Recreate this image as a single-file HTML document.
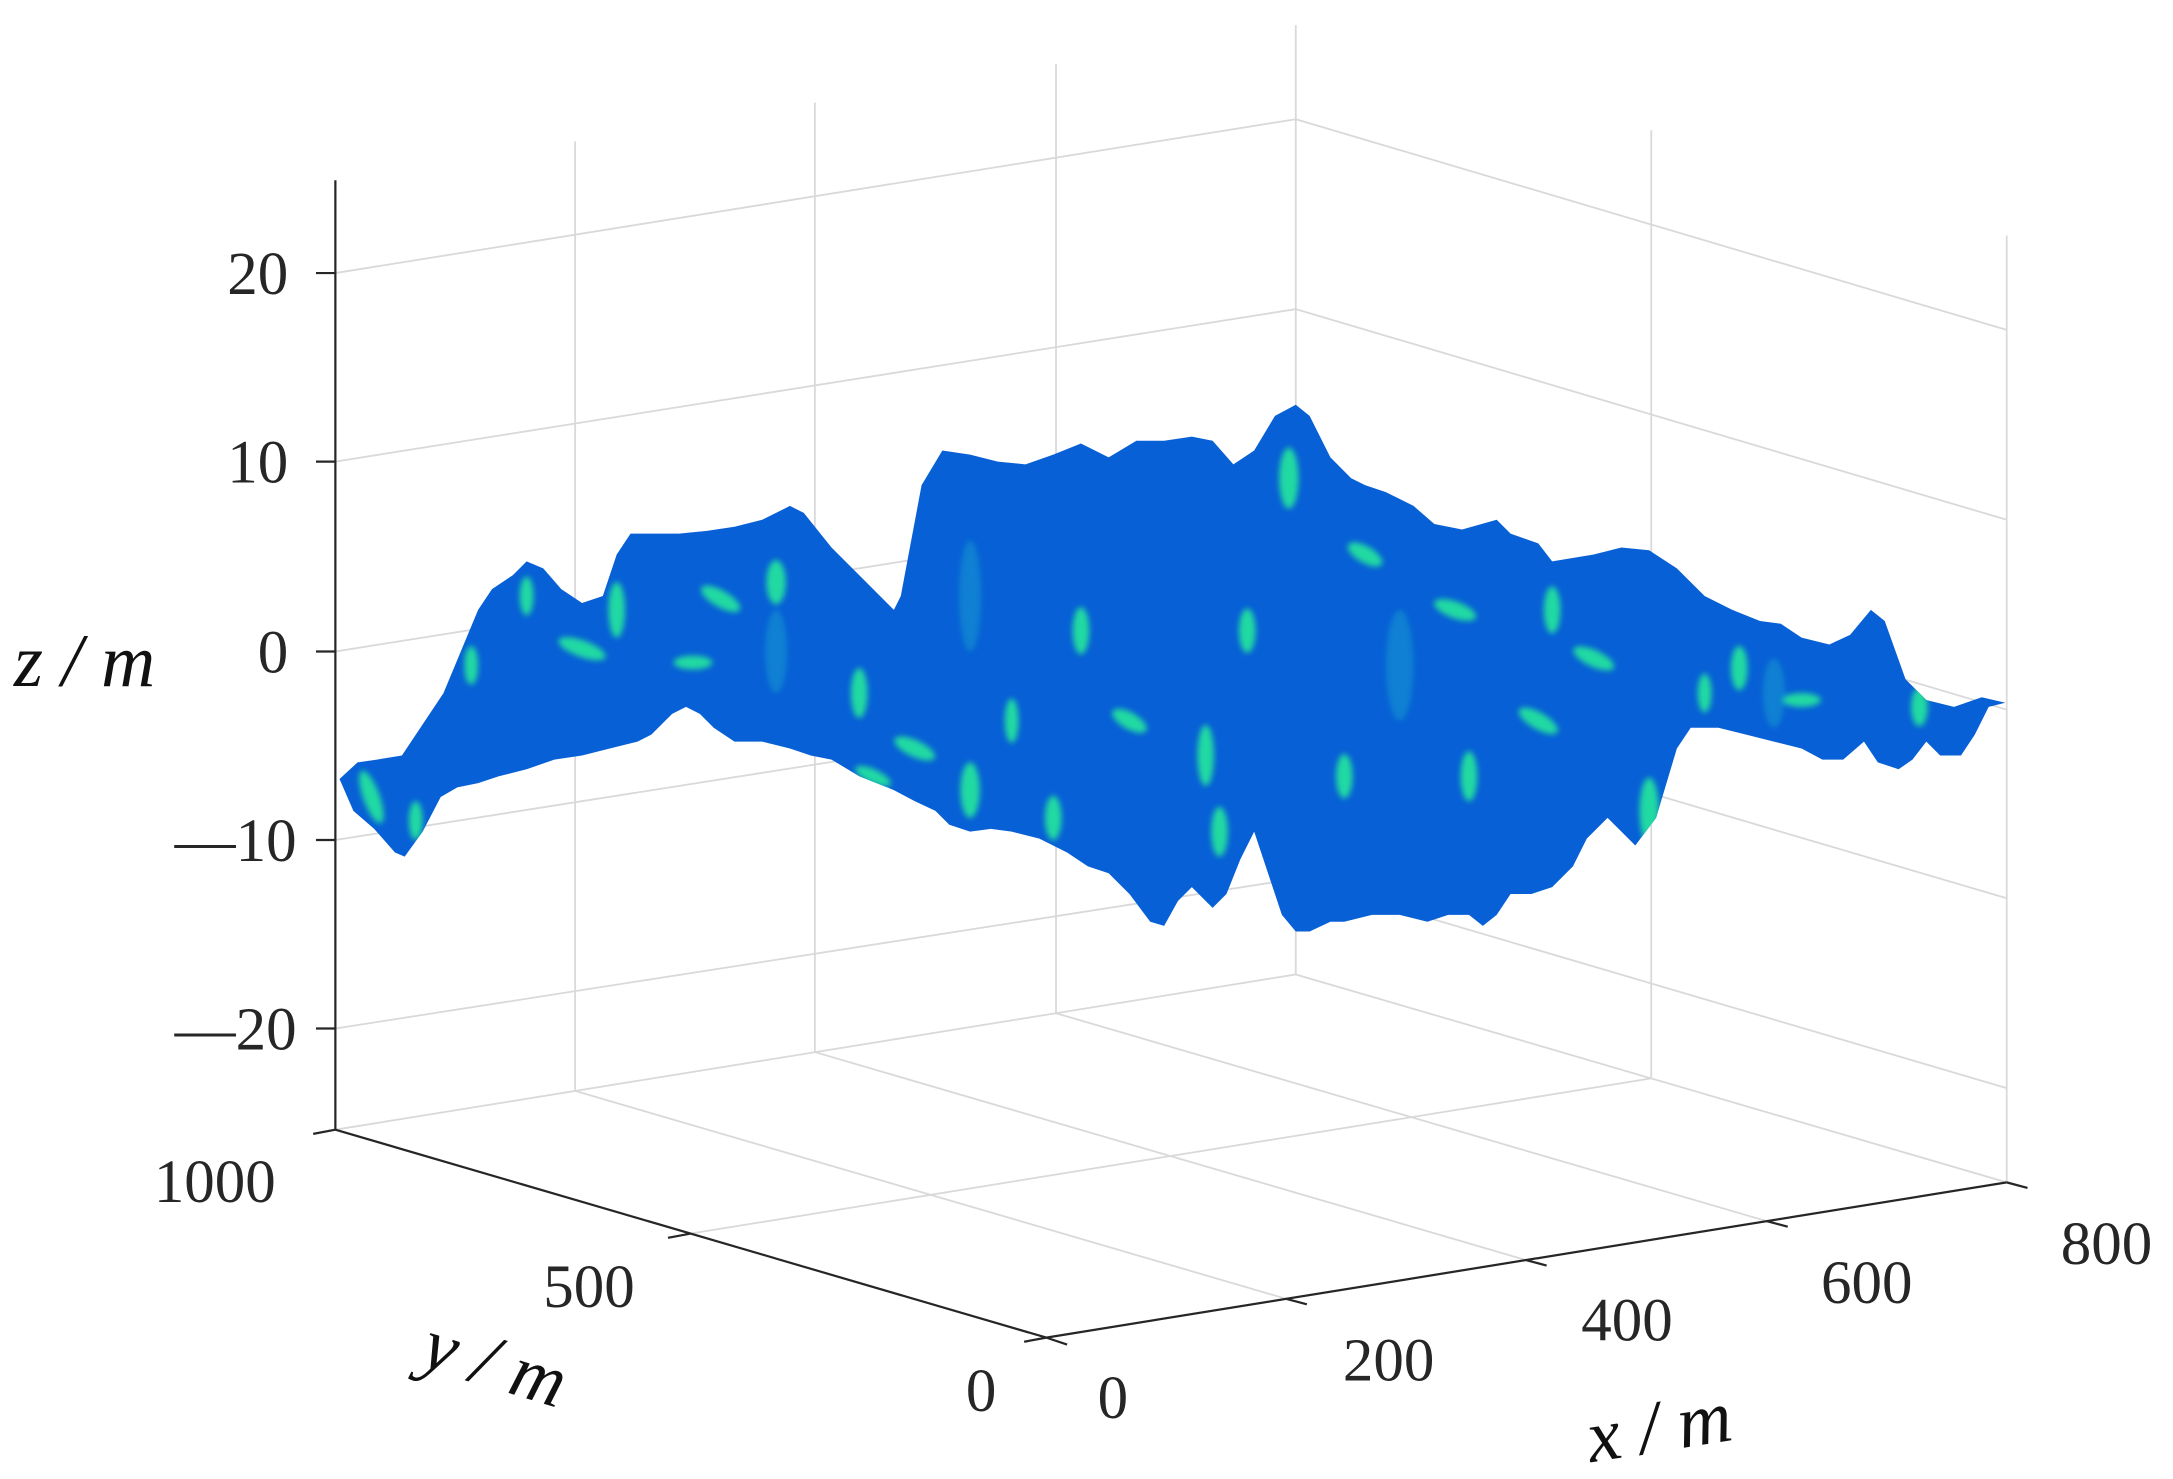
<!DOCTYPE html>
<html><head><meta charset="utf-8"><style>
html,body{margin:0;padding:0;background:#fff;}
svg{display:block;}
</style></head><body>
<svg width="2173" height="1479" viewBox="0 0 1568 1067" preserveAspectRatio="none" xmlns="http://www.w3.org/2000/svg">
<defs><filter id="bl" x="-50%" y="-50%" width="200%" height="200%"><feGaussianBlur stdDeviation="2.2"/></filter>
<clipPath id="cp"><path id="surfp" stroke-linejoin="round" d="M245,562 L258,550 272,548 290,545 320,500 345,440 355,425 370,415 380,405 392,410 405,425 420,435 435,430 445,400 455,385 470,385 490,385 510,383 530,380 550,375 570,365 580,370 600,395 625,420 645,440 650,430 665,350 680,325 700,328 720,333 740,335 760,328 780,320 800,330 820,318 840,318 860,315 875,318 890,335 905,325 920,300 935,292 945,300 960,330 975,345 985,350 1000,355 1020,365 1035,378 1055,382 1080,375 1090,385 1110,392 1120,405 1150,400 1170,395 1190,397 1210,410 1230,430 1250,440 1270,448 1285,450 1300,460 1320,465 1335,458 1350,440 1360,448 1375,490 1390,505 1410,510 1430,503 1447,507 1435,510 1425,530 1415,545 1400,545 1390,535 1380,548 1370,555 1355,550 1345,535 1330,548 1315,548 1300,540 1280,535 1260,530 1240,525 1220,525 1210,540 1195,590 1180,610 1170,600 1160,590 1145,605 1135,625 1120,640 1105,645 1090,645 1080,660 1070,668 1060,660 1045,660 1030,665 1010,660 990,660 970,665 960,665 945,672 935,672 925,660 915,630 905,600 895,620 885,645 875,655 860,640 850,650 840,668 830,665 815,645 800,630 785,625 770,615 750,605 730,600 715,598 700,600 685,595 675,585 660,578 645,570 620,560 600,548 585,545 570,540 550,535 530,535 515,525 505,515 495,510 485,515 470,530 460,535 440,540 420,545 400,548 380,555 360,560 345,565 330,568 318,575 305,600 292,618 285,615 270,598 255,585 Z"/></clipPath></defs>
<g stroke="#d9d9d9" stroke-width="1.3" fill="none">
<line x1="415" y1="787" x2="415" y2="102"/><line x1="588" y1="759" x2="588" y2="74"/><line x1="762" y1="731" x2="762" y2="46"/>
<line x1="935" y1="703" x2="935" y2="18"/><line x1="1191.5" y1="778" x2="1191.5" y2="94"/><line x1="1448" y1="853" x2="1448" y2="170"/>
<line x1="242" y1="197" x2="935" y2="86"/><line x1="242" y1="333" x2="935" y2="223"/><line x1="242" y1="470" x2="935" y2="360"/><line x1="242" y1="606" x2="935" y2="497"/><line x1="242" y1="742" x2="935" y2="634"/>
<line x1="935" y1="86" x2="1448" y2="238"/><line x1="935" y1="223" x2="1448" y2="375"/><line x1="935" y1="360" x2="1448" y2="512"/><line x1="935" y1="497" x2="1448" y2="648"/><line x1="935" y1="634" x2="1448" y2="785"/>
<line x1="242" y1="815" x2="935" y2="703"/><line x1="935" y1="703" x2="1448" y2="853"/>
<line x1="415" y1="787" x2="928" y2="937"/><line x1="588" y1="759" x2="1101" y2="909"/><line x1="762" y1="731" x2="1275" y2="881"/>
<line x1="498" y1="890" x2="1191.5" y2="778"/>
</g>
<use href="#surfp" fill="#0860d6"/>
<g clip-path="url(#cp)" filter="url(#bl)">
<g fill="#22e89c" opacity="0.9">
<ellipse cx="268" cy="575" rx="6" ry="20" transform="rotate(-20 268 575)"/>
<ellipse cx="300" cy="592" rx="5" ry="14"/>
<ellipse cx="420" cy="468" rx="18" ry="6" transform="rotate(20 420 468)"/>
<ellipse cx="445" cy="440" rx="6" ry="20"/>
<ellipse cx="520" cy="432" rx="16" ry="6" transform="rotate(30 520 432)"/>
<ellipse cx="560" cy="420" rx="7" ry="16"/>
<ellipse cx="500" cy="478" rx="14" ry="5"/>
<ellipse cx="620" cy="500" rx="6" ry="18"/>
<ellipse cx="660" cy="540" rx="16" ry="6" transform="rotate(25 660 540)"/>
<ellipse cx="700" cy="570" rx="7" ry="20"/>
<ellipse cx="730" cy="520" rx="5" ry="16"/>
<ellipse cx="780" cy="455" rx="6" ry="17"/>
<ellipse cx="815" cy="520" rx="14" ry="6" transform="rotate(30 815 520)"/>
<ellipse cx="870" cy="545" rx="6" ry="22"/>
<ellipse cx="900" cy="455" rx="6" ry="16"/>
<ellipse cx="930" cy="345" rx="7" ry="22"/>
<ellipse cx="985" cy="400" rx="14" ry="6" transform="rotate(30 985 400)"/>
<ellipse cx="1050" cy="440" rx="16" ry="6" transform="rotate(20 1050 440)"/>
<ellipse cx="1120" cy="440" rx="6" ry="17"/>
<ellipse cx="1150" cy="475" rx="16" ry="6" transform="rotate(25 1150 475)"/>
<ellipse cx="1190" cy="585" rx="7" ry="24"/>
<ellipse cx="1255" cy="482" rx="6" ry="16"/>
<ellipse cx="1300" cy="505" rx="14" ry="5"/>
<ellipse cx="1230" cy="500" rx="5" ry="14"/>
<ellipse cx="880" cy="600" rx="6" ry="18"/>
<ellipse cx="760" cy="590" rx="6" ry="16"/>
<ellipse cx="630" cy="560" rx="14" ry="5" transform="rotate(25 630 560)"/>
<ellipse cx="970" cy="560" rx="6" ry="16"/>
<ellipse cx="1060" cy="560" rx="6" ry="18"/>
<ellipse cx="1110" cy="520" rx="16" ry="6" transform="rotate(30 1110 520)"/>
<ellipse cx="380" cy="430" rx="5" ry="14"/>
<ellipse cx="340" cy="480" rx="5" ry="14"/>
<ellipse cx="1385" cy="510" rx="6" ry="14"/>
</g>
<g fill="#1a9fd0" opacity="0.5">
<ellipse cx="700" cy="430" rx="8" ry="40"/>
<ellipse cx="1010" cy="480" rx="10" ry="40"/>
<ellipse cx="560" cy="470" rx="8" ry="30"/>
<ellipse cx="1280" cy="500" rx="8" ry="25"/>
</g>
</g>
<g stroke="#262626" stroke-width="1.6" fill="none">
<line x1="242" y1="130" x2="242" y2="815"/>
<line x1="242" y1="815" x2="755" y2="965"/>
<line x1="755" y1="965" x2="1448" y2="853"/>
<line x1="242" y1="197" x2="228" y2="197"/><line x1="242" y1="333" x2="228" y2="333"/><line x1="242" y1="470" x2="228" y2="470"/><line x1="242" y1="606" x2="228" y2="606"/><line x1="242" y1="742" x2="228" y2="742"/>
<line x1="242" y1="815" x2="226" y2="818"/><line x1="498" y1="890" x2="482" y2="893"/><line x1="755" y1="965" x2="739" y2="968"/>
<line x1="755" y1="965" x2="770" y2="970"/><line x1="928" y1="937" x2="943" y2="941"/><line x1="1101" y1="909" x2="1116" y2="913"/><line x1="1275" y1="881" x2="1290" y2="885"/><line x1="1448" y1="853" x2="1463" y2="857"/>
</g>
<g font-size="44" font-family="Liberation Serif, Times New Roman, serif" fill="#262626">
<text x="208" y="212" text-anchor="end">20</text>
<text x="208" y="348" text-anchor="end">10</text>
<text x="208" y="485" text-anchor="end">0</text>
<text x="214" y="621" text-anchor="end">—10</text>
<text x="214" y="757" text-anchor="end">—20</text>
<text x="155" y="867" text-anchor="middle">1000</text>
<text x="425" y="943" text-anchor="middle">500</text>
<text x="708" y="1018" text-anchor="middle">0</text>
<text x="803" y="1023" text-anchor="middle">0</text>
<text x="1002" y="996" text-anchor="middle">200</text>
<text x="1174" y="967" text-anchor="middle">400</text>
<text x="1347" y="940" text-anchor="middle">600</text>
<text x="1520" y="912" text-anchor="middle">800</text>
</g>
<g font-size="54" font-style="italic" font-family="Liberation Serif, Times New Roman, serif" fill="#111">
<text x="10" y="495">z / m</text>
<text x="0" y="0" transform="translate(302 985) rotate(17)">y / m</text>
<text x="0" y="0" transform="translate(1148 1055) rotate(-9)">x / m</text>
</g>
</svg>
</body></html>
